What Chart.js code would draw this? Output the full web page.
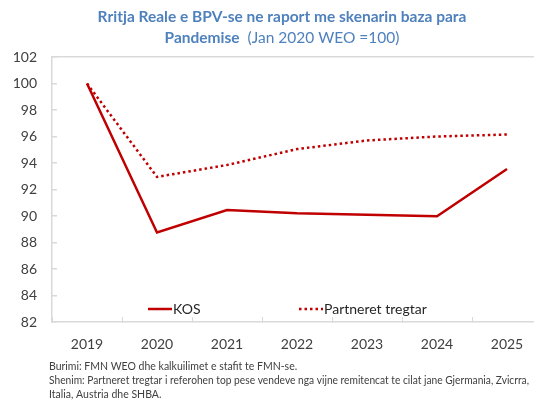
<!DOCTYPE html>
<html>
<head>
<meta charset="utf-8">
<script src="https://cdn.jsdelivr.net/npm/chart.js@4.4.1/dist/chart.umd.min.js"></script>
<style>
  html, body { margin: 0; padding: 0; overflow: hidden; background: #fff; }
  #wrap { width: 564px; height: 400px; position: relative; }
</style>
</head>
<body>
<div id="wrap"><canvas id="chart"></canvas></div>
<script>
const years = ['2019', '2020', '2021', '2022', '2023', '2024', '2025'];
const kosValues = [100, 88.75, 90.45, 90.2, 90.1, 89.98, 93.55];
const partnerValues = [100, 92.95, 93.85, 95.05, 95.7, 96.0, 96.15];
const yMin = 82;
const yMax = 102;
const yStep = 2;

const titleLine1 = 'Rritja Reale e BPV-se ne raport me skenarin baza para';
const titleLine2Bold = 'Pandemise';
const titleLine2Rest = '  (Jan 2020 WEO =100)';
const notes = [
    'Burimi: FMN WEO dhe kalkuilimet e stafit te FMN-se.',
    'Shenim: Partneret tregtar i referohen top pese vendeve nga vijne remitencat te cilat jane Gjermania, Zvicrra,',
    'Italia, Austria dhe SHBA.'
];

const red = '#C00000';
const axisGray = '#D9D9D9';
const textGray = '#404040';
const titleBlue = '#4F81BD';
const fontFamily = 'Lato, "Open Sans", sans-serif';

// titles, footnotes and the in-plot legend
const textPlugin = {
    id: 'textPlugin',
    afterDraw(chart) {
        const ctx = chart.ctx;
        const area = chart.chartArea;
        const cx = chart.width / 2;
        ctx.save();
        ctx.textBaseline = 'middle';
        ctx.fillStyle = titleBlue;

        ctx.font = 'bold 15.5px ' + fontFamily;
        ctx.textAlign = 'center';
        ctx.fillText(titleLine1, cx, 17);

        const wBold = ctx.measureText(titleLine2Bold).width;
        ctx.font = '15.5px ' + fontFamily;
        const wRest = ctx.measureText(titleLine2Rest).width;
        let x = cx - (wBold + wRest) / 2;
        ctx.textAlign = 'left';
        ctx.font = 'bold 15.5px ' + fontFamily;
        ctx.fillText(titleLine2Bold, x, 38);
        ctx.font = '15.5px ' + fontFamily;
        ctx.fillText(titleLine2Rest, x + wBold, 38);

        // footnotes
        ctx.fillStyle = textGray;
        ctx.font = '10.5px ' + fontFamily;
        notes.forEach((line, i) => ctx.fillText(line, 49, 367 + i * 14, 480));

        // legend inside plot, bottom
        const ly = area.bottom - 13;
        chart.data.datasets.forEach((ds, i) => {
            const sx = area.left + (i === 0 ? 96 : 247);
            ctx.strokeStyle = ds.borderColor;
            ctx.lineWidth = ds.borderWidth;
            ctx.setLineDash(ds.borderDash || []);
            ctx.beginPath();
            ctx.moveTo(sx, ly);
            ctx.lineTo(sx + 24, ly);
            ctx.stroke();
            ctx.setLineDash([]);
            ctx.fillStyle = '#262626';
            ctx.font = '14px ' + fontFamily;
            ctx.fillText(ds.label, sx + 25, ly);
        });
        ctx.restore();
    }
};

new Chart(document.getElementById('chart'), {
    type: 'line',
    data: {
        labels: years,
        datasets: [{
            label: 'KOS',
            data: kosValues,
            borderColor: red,
            borderWidth: 2.5,
            pointRadius: 0,
            tension: 0,
            fill: false
        }, {
            label: 'Partneret tregtar',
            data: partnerValues,
            borderColor: red,
            borderWidth: 2.5,
            borderDash: [2.5, 3],
            pointRadius: 0,
            tension: 0,
            fill: false
        }]
    },
    options: {
        responsive: true,
        maintainAspectRatio: false,
        animation: false,
        layout: { padding: { top: 57, left: 0, right: 22, bottom: 0 } },
        plugins: {
            legend: { display: false },
            tooltip: { enabled: false }
        },
        scales: {
            x: {
                offset: true,
                afterFit(scale) { scale.height = 78; },
                grid: {
                    offset: true,
                    drawOnChartArea: false,
                    tickLength: -5,
                    tickColor: axisGray
                },
                border: { color: axisGray, width: 1.5 },
                ticks: {
                    padding: 19,
                    color: textGray,
                    font: { family: fontFamily, size: 14 }
                }
            },
            y: {
                min: yMin,
                max: yMax,
                afterFit(scale) { scale.width = 52; },
                grid: {
                    color: c => (c.tick && c.tick.value === yMax ? axisGray : 'transparent'),
                    lineWidth: 1.5,
                    tickLength: -5,
                    tickColor: axisGray
                },
                border: { color: axisGray, width: 1.5 },
                ticks: {
                    stepSize: yStep,
                    padding: 20,
                    color: textGray,
                    font: { family: fontFamily, size: 14 }
                }
            }
        }
    },
    plugins: [textPlugin]
});
</script>
</body>
</html>
